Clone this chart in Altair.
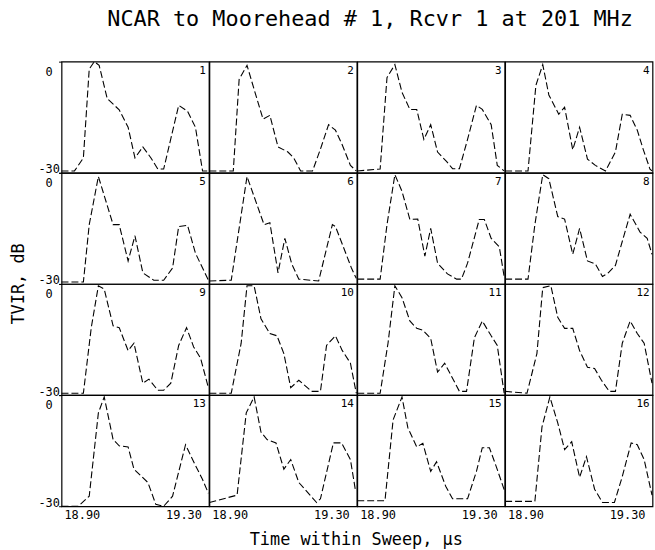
import altair as alt
import pandas as pd

title_text = "NCAR to Moorehead # 1, Rcvr 1 at 201 MHz"
x_title = "Time within Sweep, µs"
y_title = "TVIR, dB"
x_ticks = [18.90, 19.30]
y_ticks = [-30, 0]

times = [
    [18.820, 18.871, 18.906, 18.929, 18.949, 18.968, 19.000, 19.047, 19.082, 19.109, 19.140, 19.172, 19.199, 19.222, 19.281, 19.316, 19.347, 19.375, 19.398],
    [18.820, 18.914, 18.937, 18.968, 18.996, 19.031, 19.058, 19.090, 19.129, 19.152, 19.179, 19.226, 19.257, 19.289, 19.316, 19.343, 19.375, 19.398],
    [18.820, 18.910, 18.937, 18.968, 18.996, 19.027, 19.054, 19.082, 19.109, 19.136, 19.172, 19.195, 19.222, 19.254, 19.289, 19.312, 19.347, 19.371, 19.398],
    [18.820, 18.910, 18.941, 18.968, 18.992, 19.031, 19.054, 19.086, 19.113, 19.144, 19.175, 19.215, 19.254, 19.281, 19.312, 19.340, 19.363, 19.390, 19.398],
    [18.820, 18.906, 18.929, 18.965, 19.023, 19.047, 19.082, 19.109, 19.140, 19.183, 19.222, 19.257, 19.281, 19.316, 19.347, 19.398],
    [18.820, 18.906, 18.937, 18.968, 19.035, 19.058, 19.090, 19.117, 19.144, 19.172, 19.250, 19.304, 19.316, 19.347, 19.379, 19.398],
    [18.820, 18.910, 18.937, 18.968, 18.996, 19.027, 19.058, 19.086, 19.109, 19.136, 19.175, 19.211, 19.230, 19.254, 19.300, 19.320, 19.347, 19.379, 19.398],
    [18.820, 18.910, 18.937, 18.968, 18.992, 19.027, 19.054, 19.086, 19.113, 19.144, 19.175, 19.203, 19.226, 19.254, 19.289, 19.312, 19.351, 19.379, 19.398],
    [18.820, 18.906, 18.937, 18.965, 18.988, 19.023, 19.047, 19.082, 19.105, 19.140, 19.164, 19.199, 19.222, 19.250, 19.281, 19.312, 19.340, 19.367, 19.398],
    [18.820, 18.906, 18.945, 18.968, 18.996, 19.023, 19.058, 19.086, 19.113, 19.140, 19.172, 19.222, 19.257, 19.281, 19.316, 19.343, 19.375, 19.398],
    [18.820, 18.910, 18.941, 18.968, 18.996, 19.027, 19.054, 19.078, 19.109, 19.136, 19.164, 19.222, 19.250, 19.281, 19.312, 19.347, 19.371, 19.398],
    [18.820, 18.906, 18.945, 18.968, 19.000, 19.027, 19.054, 19.086, 19.113, 19.144, 19.172, 19.199, 19.230, 19.254, 19.281, 19.312, 19.340, 19.367, 19.398],
    [18.820, 18.886, 18.929, 18.965, 18.988, 19.023, 19.047, 19.082, 19.105, 19.160, 19.191, 19.222, 19.257, 19.308, 19.340, 19.375, 19.398],
    [18.820, 18.929, 18.965, 18.996, 19.023, 19.047, 19.082, 19.113, 19.140, 19.172, 19.242, 19.257, 19.308, 19.340, 19.375, 19.394],
    [18.820, 18.929, 18.961, 18.996, 19.019, 19.054, 19.078, 19.109, 19.132, 19.168, 19.195, 19.254, 19.289, 19.312, 19.340, 19.367, 19.398],
    [18.820, 18.937, 18.965, 18.996, 19.027, 19.054, 19.082, 19.113, 19.140, 19.172, 19.203, 19.250, 19.281, 19.316, 19.340, 19.367, 19.398],
]
levels = [
    [-29.5, -29.5, -26, -2, 0, -1, -10, -13, -17.7, -26, -23, -26, -29, -29, -11.8, -13.4, -17.7, -29.5, -29.5],
    [-29.5, -29.5, -4.8, -1, -7.5, -15.5, -14.5, -23, -24.4, -26, -29.5, -29.5, -23.6, -17, -18.5, -22.5, -28, -29.5],
    [-29.5, -29, -4.3, -0.8, -8.3, -12.9, -12.9, -21, -17, -24.4, -27, -28.9, -28.9, -21, -11.8, -12.9, -17, -28, -29.5],
    [-29.5, -29.5, -6.4, -0.8, -9, -14.2, -12.3, -23.8, -17.7, -26.3, -28, -29.5, -24.4, -14.2, -14.5, -18.5, -23.6, -29, -29.5],
    [-29.5, -29.5, -14, -1, -14, -14, -23.8, -17, -27, -29, -29, -25.7, -14.5, -14.2, -21.7, -29],
    [-29.2, -29, -15, -1, -14, -13.5, -27, -17.7, -24.6, -28.7, -29.2, -14, -14.5, -20, -25.7, -28.5],
    [-28.7, -28.7, -14, -0.5, -5, -12.6, -12.5, -22.5, -15, -24.4, -27.3, -28.7, -28.7, -24.4, -12.6, -12.6, -17.7, -20, -28],
    [-28.7, -28.7, -14, -0.5, -1.6, -11.8, -12.5, -22, -15, -23.8, -24.6, -28, -27, -25, -16.6, -11.2, -16, -17.7, -22],
    [-29.5, -29.5, -11.8, -0.5, -1.4, -11.3, -11.8, -18, -16, -26.8, -25.7, -28.7, -28.7, -26.8, -16.6, -11.8, -17, -20, -28],
    [-29.5, -29.5, -16, -0.5, -0.5, -9.4, -13.4, -14, -18.8, -28, -26, -29, -29, -16.6, -14, -18, -21.4, -29.5],
    [-29.5, -29.5, -16, -0.5, -3.7, -10, -12, -12.5, -14.7, -23.8, -21.4, -29, -29, -14.5, -10, -14, -16.6, -29.5],
    [-29, -29.5, -18.8, -1, -0.5, -9, -12, -12, -18, -22.5, -22.8, -26, -29, -29, -16, -10, -13.4, -16, -26.8],
    [-30, -30, -27.3, -4.8, -0.5, -12, -13.7, -14, -20, -23.6, -29.5, -30, -27.3, -13.4, -18, -22.8, -26.5],
    [-29, -27, -4.8, -0.5, -10, -12, -12.9, -20, -17.4, -23.6, -29, -28, -12.9, -12.9, -17.4, -25.4],
    [-28.5, -28.5, -6.7, -0.5, -8.8, -14, -13, -20.6, -18, -24.6, -28, -28, -20.6, -14.2, -14.2, -19.3, -25.5],
    [-28.7, -28.7, -8.6, -0.5, -7.5, -14.7, -12.6, -22.2, -16.6, -25.4, -29, -29, -22, -12.9, -13.4, -17.4, -27],
]

records = []
for k, (ts, ds) in enumerate(zip(times, levels)):
    for i, (t, d) in enumerate(zip(ts, ds)):
        records.append({"panel": k + 1, "row": k // 4, "col": k % 4, "i": i, "t": t, "db": d})
df = pd.DataFrame(records)

FONT = "DejaVu Sans Mono"
x_dom = [18.82, 19.40]

x_enc = alt.X(
    "t:Q",
    scale=alt.Scale(domain=x_dom, nice=False, zero=False),
    axis=alt.Axis(values=x_ticks, labelExpr="format(datum.value, '.2f')", title=None,
                  grid=False, domain=False, ticks=False, labelPadding=3,
                  labelFont=FONT, labelFontSize=12, labelColor="black"),
)
y_enc = alt.Y(
    "db:Q",
    scale=alt.Scale(domain=[-30, 0], nice=False, zero=False),
    axis=alt.Axis(values=y_ticks, labelExpr="toString(datum.value)", title=None,
                  grid=False, domain=False, ticks=True, tickSize=3, tickColor="black",
                  labelFlush=False, labelAlign="center", labelPadding=10,
                  labelBaseline={"condition": {"test": "datum.value == 0", "value": "top"}, "value": "middle"},
                  labelOffset={"condition": {"test": "datum.value == 0", "value": 5}, "value": -4},
                  labelFont=FONT, labelFontSize=12, labelColor="black"),
)

line = alt.Chart().mark_line(color="black", strokeWidth=1.1, strokeDash=[7, 3]).encode(
    x=x_enc, y=y_enc, order="i:Q"
)
num = alt.Chart().mark_text(
    align="right", baseline="top", dx=-3, dy=3, font=FONT, fontSize=11, color="black"
).encode(
    x=alt.datum(19.40), y=alt.datum(0), text="panel:N"
).transform_filter("datum.i == 0")

chart = (
    alt.layer(line, num, data=df)
    .properties(width=148.5, height=112)
    .facet(
        row=alt.Row("row:O", header=alt.Header(labels=False, title=y_title, titleFont=FONT,
                                               titleFontSize=17, titleFontWeight="normal",
                                               titleOrient="left", titlePadding=0, titleColor="black")),
        column=alt.Column("col:O", header=alt.Header(labels=False, title=x_title, titleFont=FONT,
                                                     titleFontSize=17, titleFontWeight="normal",
                                                     titleOrient="bottom", titlePadding=2, titleColor="black")),
        spacing=0,
        bounds="flush",
    )
    .properties(
        title=alt.TitleParams(title_text, font=FONT, fontSize=22, fontWeight="normal",
                              anchor="middle", color="black", dx=38, offset=28),
        padding={"left": 9, "top": 6, "right": 0, "bottom": 0},
        background="white",
    )
    .configure_view(stroke="black", strokeWidth=1.2)
)

chart.save("out.html", embed_options={"renderer": "svg", "actions": False})
